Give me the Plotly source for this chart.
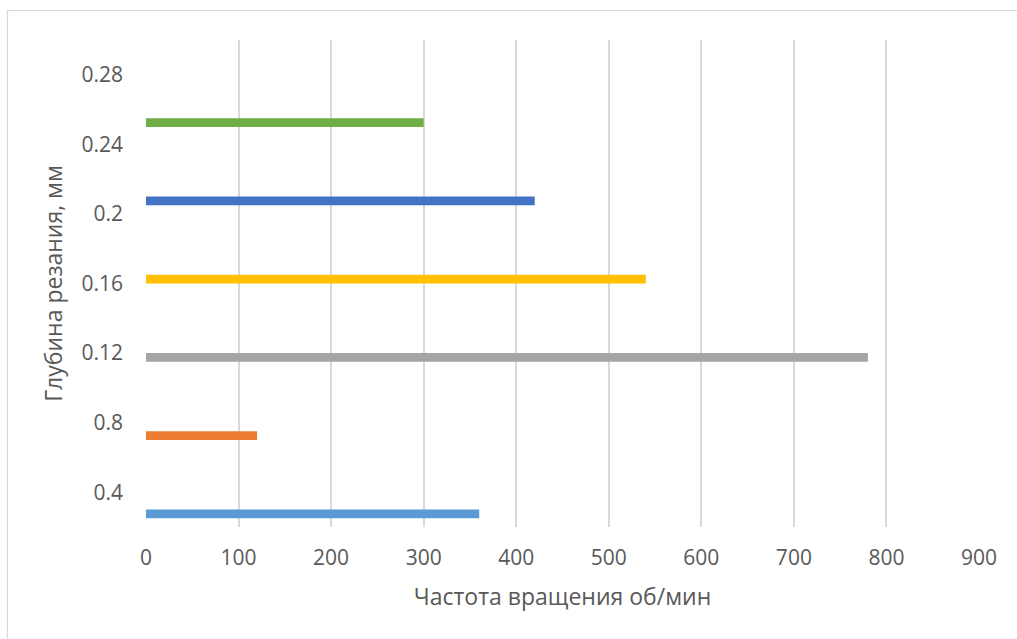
import plotly.graph_objects as go

# Cutting depth categories (bottom to top) and spindle speed per series
categories = ["0.4", "0.8", "0.12", "0.16", "0.2", "0.24", "0.28"]
series_names = ["Ряд1", "Ряд2", "Ряд3", "Ряд4", "Ряд5", "Ряд6"]
series_category = ["0.4", "0.8", "0.12", "0.16", "0.2", "0.24"]
series_values = [360, 120, 780, 540, 420, 300]
series_colors = ["#5B9BD5", "#ED7D31", "#A5A5A5", "#FFC000", "#4472C4", "#70AD47"]

x_ticks = list(range(0, 1000, 100))

W, H = 1017, 639
L, R, T, B = 146, 38, 40, 112

FONT = "Open Sans"
TXT = "#595959"

fig = go.Figure()
for i, (name, cat, val, col) in enumerate(zip(series_names, series_category, series_values, series_colors)):
    fig.add_trace(go.Bar(
        name=name, y=[cat], x=[val], orientation="h",
        offsetgroup=str(i),
        marker=dict(color=col, line=dict(width=0)),
        showlegend=False, hoverinfo="x+y",
    ))

# chart frame (only top/left edges fall inside the canvas)
pw = W - L - R
ph = H - T - B
def px_to_paper_x(px):
    return (px - L) / pw
def py_to_paper_y(py):
    return (H - B - py) / ph

fig.add_shape(type="rect", xref="paper", yref="paper",
              x0=px_to_paper_x(7.5), x1=px_to_paper_x(1030),
              y0=py_to_paper_y(650), y1=py_to_paper_y(10.5),
              line=dict(color="#d9d9d9", width=1.2), fillcolor="rgba(0,0,0,0)", layer="below")

fig.update_layout(
    width=W, height=H,
    margin=dict(l=L, r=R, t=T, b=B, autoexpand=False),
    paper_bgcolor="white", plot_bgcolor="white",
    barmode="group", bargap=0.25, bargroupgap=0,
    font=dict(family=FONT, color=TXT, size=21),
    xaxis=dict(
        range=[0, 900], tickvals=x_ticks, ticktext=[str(v) for v in x_ticks],
        showgrid=True, gridcolor="#d9d9d9", gridwidth=1.5,
        zeroline=False, showline=False, ticks="",
        tickfont=dict(family=FONT, size=21, color=TXT),
        ticklabelstandoff=16,
        title=dict(text="Частота вращения об/мин", standoff=18,
                   font=dict(family=FONT, size=23, color=TXT)),
    ),
    yaxis=dict(
        type="category", categoryorder="array", categoryarray=categories,
        range=[-0.5, len(categories) - 0.5],
        showgrid=False, zeroline=False, showline=False, ticks="",
        tickfont=dict(family=FONT, size=21, color=TXT),
        ticklabelstandoff=22,
        title=dict(text="Глубина резания, мм", standoff=12,
                   font=dict(family=FONT, size=23, color=TXT)),
    ),
)

fig.write_html("out.html")
